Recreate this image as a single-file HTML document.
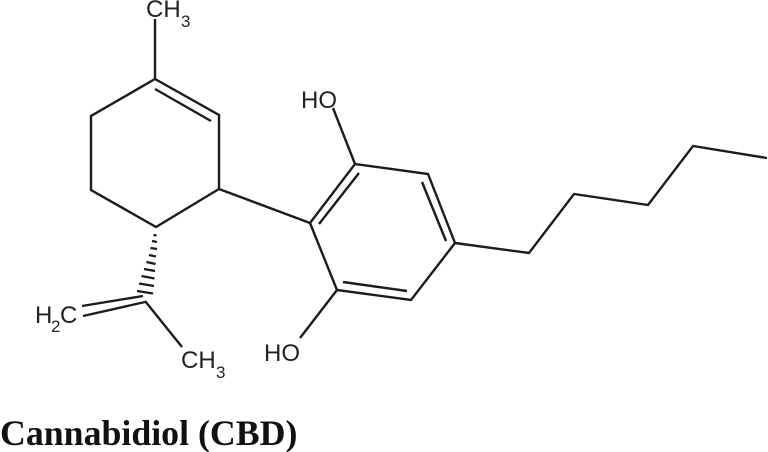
<!DOCTYPE html>
<html>
<head>
<meta charset="utf-8">
<style>
html,body{margin:0;padding:0;background:#fff;width:768px;height:452px;overflow:hidden}
svg{display:block}
.a{font-family:"Liberation Sans",sans-serif;font-size:24px;fill:#222}
.s{font-family:"Liberation Sans",sans-serif;font-size:17px;fill:#222}
.t{font-family:"Liberation Serif",serif;font-size:35.8px;font-weight:bold;fill:#111}
</style>
</head>
<body>
<svg width="768" height="452" viewBox="0 0 768 452" xmlns="http://www.w3.org/2000/svg">
<g fill="none" stroke="#1c1c1c" stroke-width="2.4" stroke-linejoin="miter" stroke-linecap="butt">
<polygon points="155,79 219,115 219,189 156,227 91,190 91,116"/>
<line x1="155" y1="79" x2="155" y2="19"/>
<line x1="155" y1="89" x2="211" y2="121"/>
<line x1="219" y1="189" x2="310" y2="223"/>
<polygon points="310,223 355,164 428,174 455,243 411,300 337,290"/>
<line x1="319" y1="224" x2="359" y2="173"/>
<line x1="422" y1="182" x2="446" y2="241"/>
<line x1="343" y1="282" x2="407" y2="291"/>
<line x1="355" y1="164" x2="333" y2="108"/>
<line x1="337" y1="290" x2="300" y2="338"/>
<polyline points="455,243 529,253 574,194 648,205 693,146 767,158"/>
<line x1="82" y1="306" x2="143" y2="296"/>
<line x1="83" y1="316" x2="145" y2="302"/>
<line x1="145" y1="301" x2="182" y2="347"/>
</g>
<g stroke="#1c1c1c" stroke-width="2.2" fill="none">
<line x1="153.500" y1="235" x2="156.500" y2="235.500"/>
<line x1="152" y1="241" x2="157" y2="242"/>
<line x1="150.500" y1="248" x2="157" y2="249"/>
<line x1="149" y1="255" x2="156" y2="256.500"/>
<line x1="146.500" y1="262" x2="155.500" y2="264"/>
<line x1="144" y1="269" x2="155" y2="271"/>
<line x1="141.500" y1="276" x2="154.500" y2="278.500"/>
<line x1="139" y1="283.500" x2="154" y2="286"/>
<line x1="137" y1="291" x2="153" y2="293.500"/>
</g>
<text class="a" x="146" y="17">CH</text><text class="s" x="181" y="27">3</text>
<text class="a" x="301" y="108">HO</text>
<text class="a" x="264" y="361">HO</text>
<text class="a" x="35" y="323">H</text><text class="s" x="51" y="332">2</text><text class="a" x="60" y="323">C</text>
<text class="a" x="181" y="368">CH</text><text class="s" x="216" y="378">3</text>
<text class="t" x="0" y="445">Cannabidiol (CBD)</text>
</svg>
</body>
</html>
